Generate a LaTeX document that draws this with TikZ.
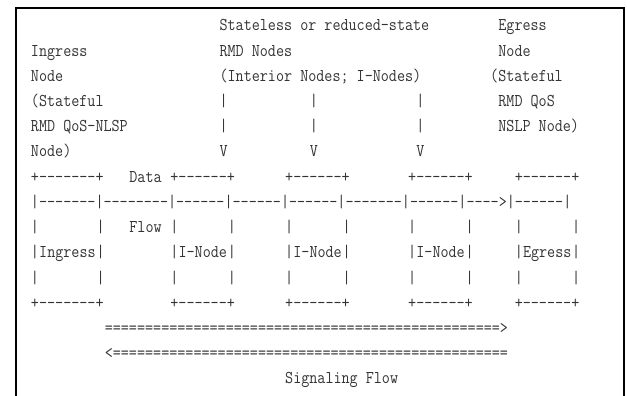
\documentclass[tikz,border=0pt]{standalone}
\usepackage{fontspec}
\newfontfamily\asciifont{Latin Modern Mono}[FakeStretch=0.87]

\begin{document}
\begin{tikzpicture}[x=8.2pt,y=-25.2pt,
    ascii/.style={font=\fontsize{18pt}{20pt}\asciifont,anchor=base west,inner sep=0pt,outer sep=0pt,text=black!80},
    frame/.style={line width=2.5pt,draw=black}]

    \useasboundingbox (-31pt,5.8pt) rectangle (596pt,-390.2pt);
    \draw[frame] (-15pt,-390.2pt) -- (-15pt,-2.2pt) -- (593pt,-2.2pt) -- (593pt,-390.2pt);

    % labels above the boxes
    \node[ascii] (ing1) at (0,2) {Ingress};
    \node[ascii] (ing2) at (0,3) {Node};
    \node[ascii] (ing3) at (0,4) {(Stateful};
    \node[ascii] (ing4) at (0,5) {RMD QoS-NLSP};
    \node[ascii] (ing5) at (0,6) {Node)};

    \node[ascii] (mid1) at (23,1) {Stateless or reduced-state};
    \node[ascii] (mid2) at (23,2) {RMD Nodes};
    \node[ascii] (mid3) at (23,3) {(Interior Nodes; I-Nodes)};

    \node[ascii] (egr1) at (57,1) {Egress};
    \node[ascii] (egr2) at (57,2) {Node};
    \node[ascii] (egr3) at (56,3) {(Stateful};
    \node[ascii] (egr4) at (57,4) {RMD QoS};
    \node[ascii] (egr5) at (57,5) {NSLP Node)};

    \foreach \c in {23,34,47}{
        \node[ascii] (bar-\c-4) at (\c,4) {|};
        \node[ascii] (bar-\c-5) at (\c,5) {|};
        \node[ascii] (vee-\c) at (\c,6) {V};
    }

    % the five boxes
    \node[ascii] (top1) at (0,7) {+-------+};
    \node[ascii] (data) at (12,7) {Data};
    \node[ascii] (top2) at (17,7) {+------+};
    \node[ascii] (top3) at (31,7) {+------+};
    \node[ascii] (top4) at (46,7) {+------+};
    \node[ascii] (top5) at (59,7) {+------+};

    \node[ascii] (flowline) at (0,8) {|-------|--------|------|------|------|-------|------|---->|------|};

    \foreach \c in {0,8,17,24,31,38,46,53,59,66}{
        \node[ascii] (side-\c-9) at (\c,9) {|};
        \node[ascii] (side-\c-10) at (\c,10) {|};
        \node[ascii] (side-\c-11) at (\c,11) {|};
    }
    \node[ascii] (flow) at (12,9) {Flow};

    \node[ascii] (ingress) at (1,10) {Ingress};
    \node[ascii] (inode1) at (18,10) {I-Node};
    \node[ascii] (inode2) at (32,10) {I-Node};
    \node[ascii] (inode3) at (47,10) {I-Node};
    \node[ascii] (egress) at (60,10) {Egress};

    \node[ascii] (bot1) at (0,12) {+-------+};
    \node[ascii] (bot2) at (17,12) {+------+};
    \node[ascii] (bot3) at (31,12) {+------+};
    \node[ascii] (bot4) at (46,12) {+------+};
    \node[ascii] (bot5) at (59,12) {+------+};

    % signaling arrows
    \node[ascii] (sigright) at (9,13) {=================================================>};
    \node[ascii] (sigleft) at (9,14) {<=================================================};
    \node[ascii] (signaling) at (31,15) {Signaling Flow};

\end{tikzpicture}
\end{document}
